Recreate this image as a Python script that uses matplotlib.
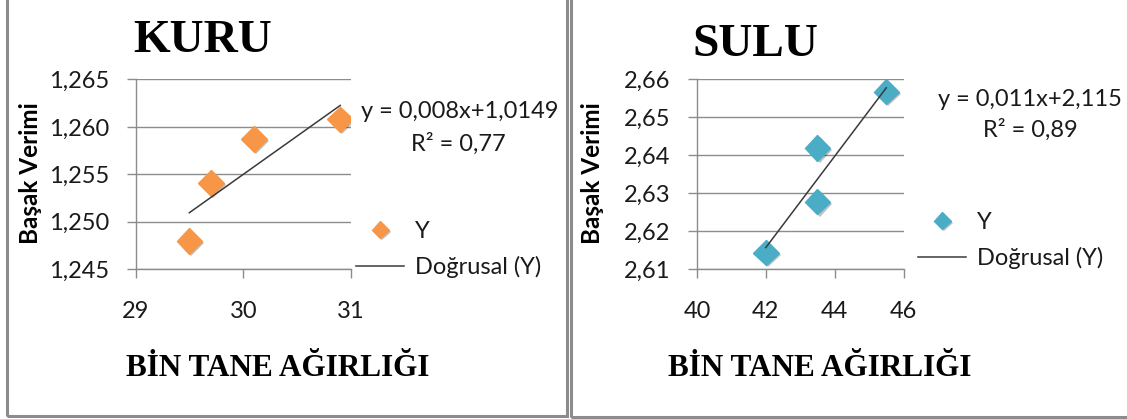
import numpy as np
import matplotlib
matplotlib.use("Agg")
import matplotlib.pyplot as plt
import matplotlib.patheffects as pe
from matplotlib.patches import Rectangle
from matplotlib.ticker import FixedLocator, FuncFormatter

# --- data -------------------------------------------------------------
kuru_x = [29.5, 29.7, 30.1, 30.9]
kuru_y = [1.2480, 1.2541, 1.2587, 1.2608]
sulu_x = [42.0, 43.5, 43.5, 45.5]
sulu_y = [2.6144, 2.6278, 2.6420, 2.6568]

kuru_eq = "y = 0,008x+1,0149"
kuru_r2 = "R² = 0,77"
sulu_eq = "y = 0,011x+2,115"
sulu_r2 = "R² = 0,89"

kuru_xticks = [29, 30, 31]
kuru_yticks = [1.245, 1.250, 1.255, 1.260, 1.265]
sulu_xticks = [40, 42, 44, 46]
sulu_yticks = [2.61, 2.62, 2.63, 2.64, 2.65, 2.66]

ORANGE = "#F79646"
BLUE = "#4BACC6"
GRID = "#8c8c8c"
FRAME = "#8c8c8c"

W, H = 1127, 419
SANS = ["Lato", "DejaVu Sans"]
SERIF = ["Liberation Serif", "DejaVu Serif"]

plt.rcParams["font.family"] = SANS
plt.rcParams["font.size"] = 17


def fx(px):
    return px / W


def fy(py):
    return 1 - py / H


def comma_fmt(decimals):
    return FuncFormatter(lambda v, pos: f"{v:.{decimals}f}".replace(".", ","))


def panel(fig, rect, xs, ys, xticks, yticks, ydec, color, title, title_xy,
          eq, r2, eq_xy, r2_xy, ylab_x, xlab_x, leg_xy):
    ax = fig.add_axes(rect)
    shadow = [pe.SimplePatchShadow(offset=(1.5, -1.5), shadow_rgbFace="k", alpha=0.25),
              pe.Normal()]
    ax.plot(xs, ys, linestyle="none", marker="D", ms=13, color=color,
            label="Y", path_effects=shadow, zorder=3)

    # least-squares trend line over the data range
    slope, icept = np.polyfit(xs, ys, 1)
    tx = np.array([min(xs), max(xs)])
    ax.plot(tx, slope * tx + icept, color="#3a3a3a", lw=1.1,
            label="Doğrusal (Y)", zorder=4)

    ax.set_xlim(xticks[0], xticks[-1])
    ax.set_ylim(yticks[0], yticks[-1])
    ax.xaxis.set_major_locator(FixedLocator(xticks))
    ax.yaxis.set_major_locator(FixedLocator(yticks))
    ax.yaxis.set_major_formatter(comma_fmt(ydec))
    ax.xaxis.set_major_formatter(FuncFormatter(lambda v, pos: f"{v:.0f}"))
    ax.grid(axis="y", color=GRID, lw=1)
    ax.set_axisbelow(True)
    for s in ("top", "right"):
        ax.spines[s].set_visible(False)
    for s in ("left", "bottom"):
        ax.spines[s].set_color(GRID)
        ax.spines[s].set_linewidth(1)
    ax.tick_params(axis="both", direction="out", length=6.5, width=1, color=GRID,
                   labelsize=17, labelcolor="#1a1a1a")
    ax.tick_params(axis="y", pad=12.5)
    ax.tick_params(axis="x", pad=16.5)

    fig.text(fx(title_xy[0]), fy(title_xy[1]), title, family=SERIF,
             fontweight="bold", fontsize=34, ha="center", va="center")
    fig.text(fx(eq_xy[0]), fy(eq_xy[1]), eq, fontsize=17, ha="center",
             va="center", color="#1a1a1a")
    fig.text(fx(r2_xy[0]), fy(r2_xy[1]), r2, fontsize=17, ha="center",
             va="center", color="#1a1a1a")
    fig.text(fx(ylab_x), fy(173), "Başak Verimi", rotation=90, fontsize=17.5,
             fontweight="bold", ha="center", va="center")
    fig.text(fx(xlab_x), fy(368), "BİN TANE AĞIRLIĞI", family=SERIF,
             fontweight="bold", fontsize=22.5, ha="center", va="center")

    leg = ax.legend(loc="upper left", bbox_to_anchor=(fx(leg_xy[0]), fy(leg_xy[1])),
                    bbox_transform=fig.transFigure, frameon=False, fontsize=17,
                    handlelength=2.05, handletextpad=0.45, labelspacing=0.6,
                    borderpad=0, borderaxespad=0, markerscale=0.66)
    for t in leg.get_texts():
        t.set_color("#1a1a1a")
    return ax


fig = plt.figure(figsize=(W / 100, H / 100), dpi=100)

# panel frames
fig.add_artist(Rectangle((fx(6.5), fy(415.5)), fx(566.5 - 6.5), fy(-10) - fy(415.5),
                         transform=fig.transFigure, fill=False, ec=FRAME, lw=2.2))
fig.add_artist(Rectangle((fx(570.5), fy(416.5)), fx(1140 - 570.5), fy(-10) - fy(416.5),
                         transform=fig.transFigure, fill=False, ec=FRAME, lw=2.2))

ay0, ay1 = 79.4, 269.3
panel(fig, [fx(135.5), fy(ay1), fx(351 - 135.5), (ay1 - ay0) / H],
      kuru_x, kuru_y, kuru_xticks, kuru_yticks, 3, ORANGE, "KURU", (203, 41),
      kuru_eq, kuru_r2, (460, 112), (458, 144), 31, 278, (356, 221))
panel(fig, [fx(697), fy(ay1), fx(903.5 - 697), (ay1 - ay0) / H],
      sulu_x, sulu_y, sulu_xticks, sulu_yticks, 2, BLUE, "SULU", (755, 45),
      sulu_eq, sulu_r2, (1030, 100), (1030, 130), 592, 820, (918, 212))

fig.savefig("out.png", dpi=100)
